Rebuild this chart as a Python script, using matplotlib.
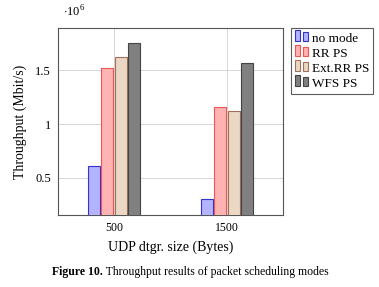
import matplotlib
matplotlib.use("Agg")
import matplotlib.pyplot as plt
from matplotlib.patches import Rectangle
from matplotlib.legend_handler import HandlerBase

plt.rcParams["font.family"] = ["Liberation Serif", "DejaVu Serif"]
plt.rcParams["mathtext.fontset"] = "custom"
plt.rcParams["mathtext.rm"] = "Liberation Serif"

# data (throughput in 10^6 Mbit/s)
sizes = [500, 1500]
modes = ["no mode", "RR PS", "Ext.RR PS", "WFS PS"]
no_mode = [0.61, 0.305]
rr_ps = [1.52, 1.155]
ext_rr_ps = [1.62, 1.12]
wfs_ps = [1.75, 1.565]
series = [no_mode, rr_ps, ext_rr_ps, wfs_ps]

faces = ["#b3b3ff", "#ffb3b3", "#ead8c4", "#808080"]
edges = ["#3333cc", "#ee5555", "#a0705a", "#444444"]


class TwoBars(HandlerBase):
    # legend icon: two small bars side by side
    def create_artists(self, legend, orig, xd, yd, w, h, fontsize, trans):
        bw = w * 0.38
        out = []
        for i, hh in enumerate([h * 1.0, h * 0.8]):
            r = Rectangle((xd + i * (bw + w * 0.22), yd), bw, hh,
                          facecolor=orig.get_facecolor(),
                          edgecolor=orig.get_edgecolor(), linewidth=0.8,
                          transform=trans)
            out.append(r)
        return out


fig = plt.figure(figsize=(3.79, 2.87), dpi=100)
ax = fig.add_axes([0.153, 0.251, 0.594, 0.651])

step = 120
width = 106
handles = []
for k, vals in enumerate(series):
    xs = [s + (k - 1.5) * step for s in sizes]
    b = ax.bar(xs, vals, width=width, color=faces[k], edgecolor=edges[k],
               linewidth=0.8, zorder=3, label=modes[k])
    handles.append(b.patches[0])

ax.set_xlim(4, 1996)
ax.set_ylim(0.157, 1.89)
ax.set_xticks(sizes)
ax.set_xticklabels(["500", "1500"], fontsize=8.5)
ax.set_yticks([0.5, 1.0, 1.5])
ax.set_yticklabels(["0.5", "1", "1.5"], fontsize=9)
ax.grid(True, color="#d0d0d0", linewidth=0.6, zorder=0)
ax.tick_params(length=0, pad=5)
for s in ax.spines.values():
    s.set_color("#555555")
    s.set_linewidth(0.8)

ax.set_ylabel("Throughput (Mbit/s)", fontsize=10, labelpad=6)
ax.set_xlabel("UDP dtgr. size (Bytes)", fontsize=10, labelpad=5)
fig.text(0.165, 0.93, r"$\cdot10^6$", fontsize=9, ha="left", va="bottom")

leg = fig.legend(handles, modes, loc="upper left",
                 bbox_to_anchor=(291 / 379, 1 - 28 / 287),
                 handler_map={h: TwoBars() for h in handles},
                 fontsize=9.5, frameon=True, fancybox=False,
                 handlelength=1.0, handleheight=0.9, handletextpad=0.3,
                 labelspacing=0.15, borderpad=0.3, borderaxespad=0)
leg.get_frame().set_edgecolor("#333333")
leg.get_frame().set_linewidth(0.8)

# caption: bold label followed by normal text
cap = fig.text(52 / 379, 1 - 272 / 287, "Figure 10.", fontweight="bold",
               ha="left", va="center", fontsize=8.5)
ax.annotate(" Throughput results of packet scheduling modes", xy=(1, 0),
            xycoords=cap, ha="left", va="bottom", fontsize=8.5,
            annotation_clip=False)

fig.savefig("out.png", dpi=100, facecolor="white")
